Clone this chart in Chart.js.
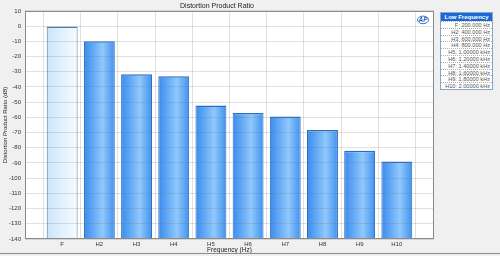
<!DOCTYPE html>
<html>
<head>
<meta charset="utf-8">
<script src="https://cdn.jsdelivr.net/npm/chart.js@4/dist/chart.umd.min.js"></script>
<style>
  html, body { margin: 0; padding: 0; }
  body { width: 500px; height: 256px; background: #f0f0f0; position: relative; overflow: hidden; font-family: "Liberation Sans", Arial, sans-serif; }
  #wrap { position: absolute; left: 0; top: 0; width: 500px; height: 256px; }
  #bottomLine { position: absolute; left: 0; top: 253px; width: 500px; height: 1px; background: #8c8c8c; }
  #freqBox { position: absolute; left: 440px; top: 12px; width: 51px; background: #fff; border: 1px solid #8aa6c6; }
  #freqBox .head { height: 8px; line-height: 8px; background: #1a6ad6; color: #fff; font-weight: bold; font-size: 6px; text-align: center; }
  #freqBox .row { height: 6.8px; line-height: 6.8px; font-size: 5.6px; color: #555; text-align: right; padding-right: 2px; border-top: 1px dotted #b0b0b0; box-sizing: border-box; white-space: nowrap; }
</style>
</head>
<body>
<div id="wrap"><canvas id="dprChart" width="500" height="256"></canvas></div>
<div id="bottomLine"></div>
<div id="freqBox"><div class="head">Low Frequency</div></div>
<script>
// Chart data
const categories = ['F', 'H2', 'H3', 'H4', 'H5', 'H6', 'H7', 'H8', 'H9', 'H10'];
const ratioDb = [0, -10, -31.6, -32.9, -52.2, -57.2, -59.5, -68.4, -82, -89];
const harmonicFreqs = ['200.000 Hz', '400.000 Hz', '600.000 Hz', '800.000 Hz', '1.00000 kHz',
                       '1.20000 kHz', '1.40000 kHz', '1.60000 kHz', '1.80000 kHz', '2.00000 kHz'];
const yMin = -140;
const yMax = 10;
const yStep = 10;

// Frequency legend box on the right
const box = document.getElementById('freqBox');
categories.forEach((c, i) => {
    const row = document.createElement('div');
    row.className = 'row';
    row.textContent = c + ': ' + harmonicFreqs[i];
    box.appendChild(row);
});

// Empty slots on both ends so the bars sit inside the frame
const labels = [''].concat(categories, ['']);
const barData = [null].concat(ratioDb.map(v => [yMin, v]), [null]);

function barGradient(context, stops, fallback) {
    const chart = context.chart;
    const xs = chart.scales.x;
    if (!chart.chartArea || !xs || context.dataIndex === undefined) return fallback;
    const cx = xs.getPixelForValue(context.dataIndex);
    const half = (xs.getPixelForValue(1) - xs.getPixelForValue(0)) * 0.83 / 2;
    const g = chart.ctx.createLinearGradient(cx - half, 0, cx + half, 0);
    stops.forEach(s => g.addColorStop(s[0], s[1]));
    return g;
}

const firstStops = [[0, '#cbe4fa'], [0.5, '#e2f1fd'], [1, '#f6fbff']];
const blueStops = [[0, '#3a8cee'], [0.35, '#6aaef7'], [0.6, '#92c8fc'], [1, '#3f92f0']];

// White plot background, frame and AP mark
const framePlugin = {
    id: 'frame',
    beforeDraw(chart) {
        const a = chart.chartArea;
        const ctx = chart.ctx;
        ctx.save();
        ctx.fillStyle = '#ffffff';
        ctx.fillRect(a.left, a.top, a.right - a.left, a.bottom - a.top);
        ctx.restore();
    },
    afterDraw(chart) {
        const a = chart.chartArea;
        const ctx = chart.ctx;
        ctx.save();
        ctx.strokeStyle = '#8a8a8a';
        ctx.lineWidth = 1;
        ctx.strokeRect(Math.round(a.left) + 0.5, Math.round(a.top) + 0.5,
                       Math.round(a.right - a.left) - 1, Math.round(a.bottom - a.top) - 1);
        // AP logo
        ctx.strokeStyle = '#3a78c8';
        ctx.beginPath();
        ctx.ellipse(a.right - 11, a.top + 9, 5.5, 3.8, 0, 0, Math.PI * 2);
        ctx.stroke();
        ctx.fillStyle = '#2a64b8';
        ctx.font = 'italic bold 6.5px "Liberation Sans"';
        ctx.textAlign = 'center';
        ctx.textBaseline = 'middle';
        ctx.fillText('AP', a.right - 11, a.top + 9.5);
        ctx.restore();
    }
};

const chart = new Chart(document.getElementById('dprChart'), {
    type: 'bar',
    data: {
        labels: labels,
        datasets: [{
            label: 'Distortion Product Ratio',
            data: barData,
            backgroundColor: function(context) {
                return context.dataIndex === 1
                    ? barGradient(context, firstStops, '#e2f1fd')
                    : barGradient(context, blueStops, '#5aa4f4');
            },
            borderColor: function(context) {
                return context.dataIndex === 1 ? '#4d7fa6' : '#2c6cc0';
            },
            borderWidth: { top: 1.5, left: 1, right: 1, bottom: 0 },
            borderSkipped: false,
            barPercentage: 0.83,
            categoryPercentage: 1
        }]
    },
    options: {
        responsive: false,
        animation: false,
        layout: { padding: { left: 0, right: 66, top: 0, bottom: 0 } },
        plugins: {
            legend: { display: false },
            tooltip: { enabled: false },
            title: {
                display: true,
                text: 'Distortion Product Ratio',
                color: '#222',
                font: { family: 'Liberation Sans', size: 7, weight: 'normal' },
                padding: { top: 2, bottom: 0.5 }
            }
        },
        scales: {
            x: {
                offset: false,
                grid: { color: 'rgba(120,120,120,0.22)', drawTicks: false, z: 1 },
                border: { display: false },
                ticks: { color: '#333', font: { family: 'Liberation Sans', size: 6 }, padding: 2, maxRotation: 0, autoSkip: false },
                title: {
                    display: true,
                    text: 'Frequency (Hz)',
                    color: '#222',
                    font: { family: 'Liberation Sans', size: 6.5 },
                    padding: { top: 0, bottom: 2 }
                },
                afterFit: function(scale) { scale.height = 17; }
            },
            y: {
                min: yMin,
                max: yMax,
                grid: { color: 'rgba(120,120,120,0.22)', drawTicks: false, z: 1 },
                border: { display: false },
                ticks: { stepSize: yStep, color: '#333', font: { family: 'Liberation Sans', size: 6 }, padding: 4 },
                title: {
                    display: true,
                    text: 'Distortion Product Ratio (dB)',
                    color: '#222',
                    font: { family: 'Liberation Sans', size: 6 },
                    padding: { top: 2, bottom: 0 }
                },
                afterFit: function(scale) { scale.width = 25; }
            }
        }
    },
    plugins: [framePlugin]
});
</script>
</body>
</html>
